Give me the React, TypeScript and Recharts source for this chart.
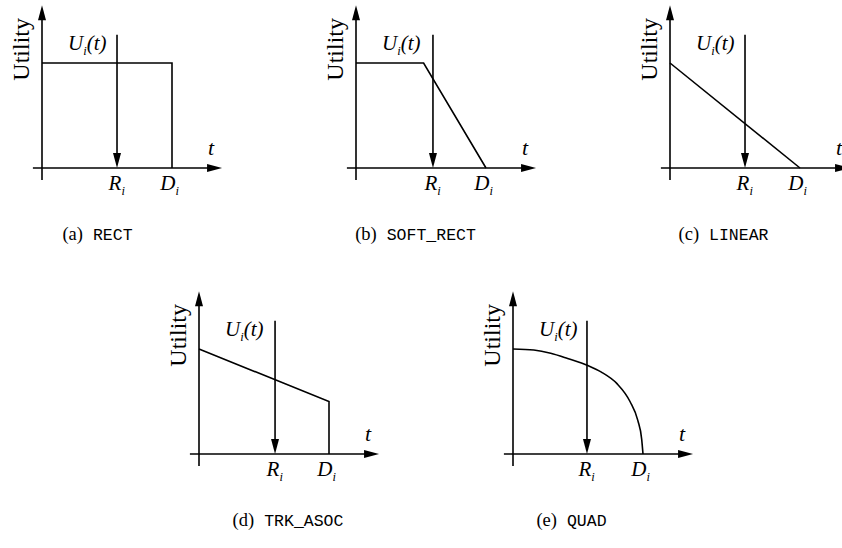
import React from 'react';
import { LineChart, Line, XAxis, YAxis, ReferenceLine, ReferenceDot } from 'recharts';

// Time is measured in units where the deadline D_i = 10; utility is normalised to 1.
const deadline = 10;

const rectT = [0, 10, 10];
const rectU = [1, 1, 0];
const softRectT = [0, 5.2, 10];
const softRectU = [1, 1, 0];
const linearT = [0, 10];
const linearU = [1, 0];
const trkAsocT = [0, 10, 10];
const trkAsocU = [1, 0.5, 0];
const quadT = [0, 1.6, 2.9, 4.2, 5.8, 6.8, 8.0, 9.0, 9.6, 9.9, 10];
const quadU = [1, 0.99, 0.96, 0.91, 0.84, 0.78, 0.67, 0.5, 0.32, 0.14, 0];

// release time R_i marked on each panel
const releaseTimes = [5.77, 5.92, 5.77, 5.85, 5.69];

const captionTags = ['(a)', '(b)', '(c)', '(d)', '(e)'];
const captionNames = ['RECT', 'SOFT_RECT', 'LINEAR', 'TRK_ASOC', 'QUAD'];

const curves = [
  { t: rectT, u: rectU },
  { t: softRectT, u: softRectU },
  { t: linearT, u: linearU },
  { t: trkAsocT, u: trkAsocU },
  { t: quadT, u: quadU },
];

// pixel geometry: origin of each panel, scale of the axes
const PX_T = 13;
const PX_U = 105;
const X_MIN = -3;
const X_MAX = 14.5;
const Y_MIN = -0.3;
const Y_MAX = 1.6;
const origins = [
  [42, 168],
  [356, 168],
  [670, 168],
  [199, 454],
  [513, 454],
];
const captionPos = [
  [97.5, 240],
  [415.5, 240],
  [723.5, 240],
  [288, 526],
  [571.5, 526],
];

const SERIF = '"Liberation Serif", "Times New Roman", serif';
const MONO = '"Liberation Mono", "Courier New", monospace';
const STROKE = 1.6;

const ArrowShape = (props: any) => {
  const { x1, y1, x2, y2 } = props;
  const dx = x2 - x1;
  const dy = y2 - y1;
  const len = Math.hypot(dx, dy) || 1;
  const ux = dx / len;
  const uy = dy / len;
  const hl = 15;
  const hw = 4;
  const bx = x2 - ux * hl;
  const by = y2 - uy * hl;
  const px = -uy * hw;
  const py = ux * hw;
  return (
    <g>
      <line x1={x1} y1={y1} x2={bx + ux * 2} y2={by + uy * 2} stroke="#000" strokeWidth={STROKE} />
      <polygon points={`${x2},${y2} ${bx + px},${by + py} ${bx - px},${by - py}`} fill="#000" />
    </g>
  );
};

const subLabel = (main: string, tail: string, anchor: 'start' | 'middle') => (p: any) => (
  <text x={p.cx} y={p.cy} fontFamily={SERIF} fontStyle="italic" fontSize={21} textAnchor={anchor} fill="#000">
    {main}
    <tspan fontSize={12.5} dy={5}>i</tspan>
    {tail ? <tspan dy={-5}>{tail}</tspan> : null}
  </text>
);

const utilityLabel = (p: any) => (
  <text
    x={p.cx}
    y={p.cy}
    fontFamily={SERIF}
    fontSize={24}
    textAnchor="middle"
    fill="#000"
    transform={`rotate(-90 ${p.cx} ${p.cy})`}
  >
    Utility
  </text>
);

const tLabel = (p: any) => (
  <text x={p.cx} y={p.cy} fontFamily={SERIF} fontStyle="italic" fontSize={22} textAnchor="middle" fill="#000">
    t
  </text>
);

function Panel({ index }: { index: number }) {
  const [ox, oy] = origins[index];
  const curve = curves[index];
  const data = curve.t.map((t, i) => ({ t, u: curve.u[i] }));
  const r = releaseTimes[index];
  const width = (X_MAX - X_MIN) * PX_T;
  const height = (Y_MAX - Y_MIN) * PX_U;
  return (
    <div style={{ position: 'absolute', left: ox + X_MIN * PX_T, top: oy - Y_MAX * PX_U }}>
      <LineChart width={width} height={height} data={data} margin={{ top: 0, right: 0, bottom: 0, left: 0 }}>
        <XAxis dataKey="t" type="number" domain={[X_MIN, X_MAX]} allowDataOverflow hide />
        <YAxis type="number" domain={[Y_MIN, Y_MAX]} allowDataOverflow hide />
        <ReferenceLine segment={[{ x: -0.7, y: 0 }, { x: 13.85, y: 0 }]} shape={ArrowShape} ifOverflow="visible" />
        <ReferenceLine segment={[{ x: 0, y: -0.114 }, { x: 0, y: 1.55 }]} shape={ArrowShape} ifOverflow="visible" />
        <ReferenceLine segment={[{ x: r, y: 1.27 }, { x: r, y: 0 }]} shape={ArrowShape} ifOverflow="visible" />
        <Line
          dataKey="u"
          type={index === 4 ? 'monotone' : 'linear'}
          stroke="#000"
          strokeWidth={STROKE}
          dot={false}
          activeDot={false}
          isAnimationActive={false}
        />
        <ReferenceDot x={-1.0} y={1.13} r={1} shape={utilityLabel} ifOverflow="visible" />
        <ReferenceDot x={2.0} y={1.12} r={1} shape={subLabel('U', '(t)', 'start')} ifOverflow="visible" />
        <ReferenceDot x={13.0} y={0.12} r={1} shape={tLabel} ifOverflow="visible" />
        <ReferenceDot x={r - 0.65} y={-0.21} r={1} shape={subLabel('R', '', 'start')} ifOverflow="visible" />
        <ReferenceDot x={deadline - 0.9} y={-0.21} r={1} shape={subLabel('D', '', 'start')} ifOverflow="visible" />
      </LineChart>
    </div>
  );
}

export default function App() {
  return (
    <div
      style={{
        position: 'absolute',
        left: 0,
        top: 0,
        width: 842,
        height: 548,
        overflow: 'hidden',
        background: '#fff',
      }}
    >
      <svg width={842} height={548} style={{ position: 'absolute', left: 0, top: 0 }}>
        {captionPos.map(([x, y], i) => (
          <text key={i} x={x} y={y} textAnchor="middle" fill="#000">
            <tspan fontFamily={SERIF} fontSize={18.5}>{captionTags[i]}</tspan>
            <tspan fontFamily={MONO} fontSize={16.5} dx={10}>
              {captionNames[i]}
            </tspan>
          </text>
        ))}
      </svg>
      {origins.map((_, i) => (
        <Panel key={i} index={i} />
      ))}
    </div>
  );
}
